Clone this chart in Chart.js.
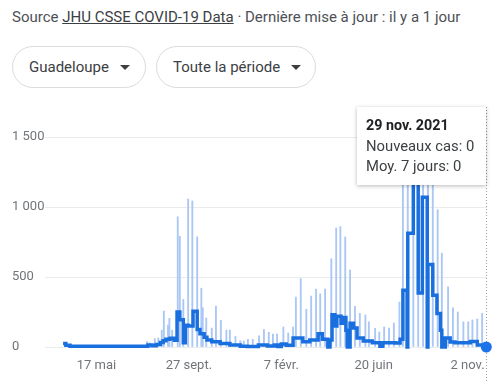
<!DOCTYPE html>
<html><head><meta charset="utf-8">
<script src="https://cdn.jsdelivr.net/npm/chart.js@4/dist/chart.umd.min.js"></script>
<style>
html,body{margin:0;padding:0;background:#fff;}
body{width:501px;height:390px;position:relative;overflow:hidden;font-family:Roboto,Arial,sans-serif;}
#src{position:absolute;left:12px;top:7px;font-size:15px;color:#4d5156;white-space:nowrap;line-height:20px;}
#src u{color:#3c4043;}
.btn{position:absolute;top:46px;height:42px;border:1px solid #dadce0;border-radius:22px;box-sizing:border-box;font-size:15px;color:#3c4043;display:flex;align-items:center;padding-left:16px;white-space:nowrap;}
.btn .arr{width:0;height:0;border-left:5px solid transparent;border-right:5px solid transparent;border-top:5px solid #3c4043;margin-left:11px;}
#b1{left:12px;width:134px;}
#b2{left:156px;width:160px;}
#tip{position:absolute;left:357px;top:107px;width:129px;height:78px;background:#fff;box-shadow:0 1px 4px rgba(0,0,0,0.28);box-sizing:border-box;padding:8px 0 0 9px;font-size:14.8px;color:#3c4043;line-height:20.5px;z-index:2;white-space:nowrap;}
#tip b{color:#202124;font-size:14.3px;}
canvas{position:absolute;left:0;top:0;}
</style>
</head>
<body>
<div id="src">Source <u>JHU CSSE COVID-19 Data</u> · Dernière mise à jour : il y a 1 jour</div>
<div class="btn" id="b1">Guadeloupe<span class="arr"></span></div>
<div class="btn" id="b2">Toute la période<span class="arr"></span></div>
<canvas id="c" width="501" height="390"></canvas>
<div id="tip"><b>29 nov. 2021</b><br>Nouveaux cas: 0<br>Moy. 7 jours: 0</div>
<script>
// Day 0 = 30 mars 2020
const tickDays = [48, 181, 314, 447, 582];
const tickLabels = ['17 mai', '27 sept.', '7 févr.', '20 juin', '2 nov.'];
const yTicks = [0, 500, 1000, 1500];

const caseDays = [121,125,132,137,142,145,151,153,157,165,168,173,180,186,193,199,201,206,214,220,227,235,240,248,255,260,266,273,282,289,296,302,308,317,324,331,335,342,350,357,364,370,377,386,393,399,406,413,420,427,435,440,449,455,462,469,476,484,489,496,504,511,518,525,532,539,545,554,561,568,576,583,589,596,603];
const caseValues = [40,30,60,64,120,257,157,205,120,930,790,340,1057,1043,787,420,280,207,135,293,190,121,121,75,45,43,55,55,80,125,105,93,93,143,100,143,357,488,270,364,414,380,415,630,850,860,786,550,290,240,229,180,133,107,143,136,171,321,2200,3000,5000,4000,5500,3000,2000,980,670,430,280,250,180,180,193,200,240];

const avgDays = [0,4,10,122,128,134,140,144,148,154,160,164,168,173,176,180,187,193,197,203,207,214,226,240,255,265,281,294,304,309,314,321,331,345,355,367,373,381,384,387,391,394,400,403,407,409,413,418,423,432,445,456,460,478,485,489,495,496,504,511,517,524,525,532,538,543,545,550,557,564,586,596,606,609];
const avgValues = [25,12,6,14,9,18,32,45,55,62,48,250,195,30,155,150,255,125,95,70,50,38,25,14,5,3,15,8,15,3,22,12,65,38,50,95,55,0,50,230,150,220,170,210,120,0,170,136,65,42,30,5,30,28,55,405,0,812,1450,385,1070,0,590,370,240,120,0,65,35,30,40,15,5,0];

const lastIdx = avgDays.length - 1;

const cursorPlugin = {
  id: 'cursor',
  beforeDatasetsDraw(chart) {
    const ctx = chart.ctx;
    const x = Math.round(chart.scales.x.getPixelForValue(avgDays[lastIdx])) + 0.5;
    ctx.save();
    ctx.strokeStyle = '#9aa0a6';
    ctx.lineWidth = 1;
    ctx.setLineDash([1, 2]);
    ctx.beginPath();
    ctx.moveTo(x, 107);
    ctx.lineTo(x, 383);
    ctx.stroke();
    ctx.restore();
  }
};

new Chart(document.getElementById('c'), {
  type: 'bar',
  data: {
    datasets: [
      {
        type: 'line',
        data: avgDays.map((d, i) => ({x: d, y: avgValues[i]})),
        stepped: true,
        borderColor: '#1a6fdf',
        borderWidth: 3.5,
        pointRadius: (c) => c.dataIndex === lastIdx ? 5.5 : 0,
        pointBackgroundColor: '#1a73e8',
        pointBorderWidth: 0,
        pointHoverRadius: 0,
        clip: false,
        order: 0
      },
      {
        type: 'bar',
        data: caseDays.map((d, i) => ({x: d, y: caseValues[i]})),
        backgroundColor: '#aac7f5',
        barThickness: 1.2,
        order: 1
      }
    ]
  },
  options: {
    responsive: false,
    animation: false,
    events: [],
    layout: {padding: {left: 12, right: 14, top: 123, bottom: 0}},
    plugins: {legend: {display: false}, tooltip: {enabled: false}},
    scales: {
      x: {
        type: 'linear',
        min: -26,
        max: 610,
        offset: false,
        grid: {display: false},
        border: {display: false},
        afterBuildTicks: (axis) => { axis.ticks = tickDays.map(v => ({value: v})); },
        afterFit: (s) => { s.height = 43; },
        ticks: {
          autoSkip: false,
          maxRotation: 0,
          padding: 3,
          color: '#70757a',
          font: {family: 'Roboto', size: 13},
          callback: (v) => tickLabels[tickDays.indexOf(v)]
        }
      },
      y: {
        min: 0,
        max: 1600,
        grid: {color: '#ebebeb', drawTicks: false},
        border: {display: false},
        afterBuildTicks: (axis) => { axis.ticks = yTicks.map(v => ({value: v})); },
        afterFit: (s) => { s.width = 33; },
        ticks: {
          crossAlign: 'far',
          padding: 0,
          color: '#70757a',
          font: {family: 'Roboto', size: 13},
          callback: (v) => String(v).replace(/\B(?=(\d{3})+(?!\d))/g, ' ')
        }
      }
    }
  },
  plugins: [cursorPlugin]
});
</script>
</body></html>
